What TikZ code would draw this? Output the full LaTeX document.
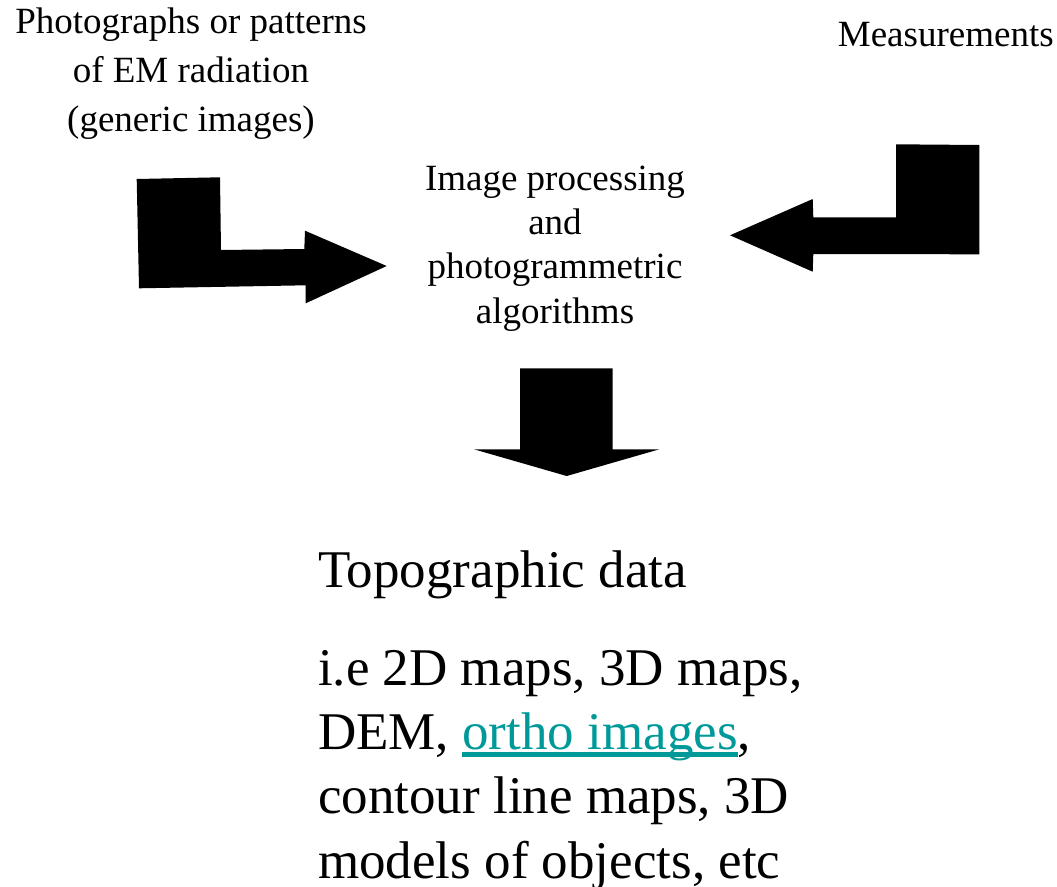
\documentclass[tikz,border=0pt]{standalone}
\usepackage{fontspec}
\setmainfont{Liberation Serif}
\definecolor{linkteal}{RGB}{0,153,153}
\newcommand{\linkul}[1]{\setbox0\hbox{#1}\rlap{\rule[-7.5pt]{\wd0}{4.5pt}}\box0}

\tikzset{
  smalltext/.style={font=\fontsize{37}{49}\selectfont, align=center, inner sep=0pt, anchor=base},
  bigtext/.style={font=\fontsize{53}{64.4}\selectfont, align=left, inner sep=0pt, anchor=base west},
  blockarrow/.style={fill=black, draw=none}
}

\begin{document}
\begin{tikzpicture}[x=1pt, y=-1pt]
\useasboundingbox (0, 0) rectangle (1057, 886);

% inputs (anchored at the baseline of the last line)
\node[smalltext] (photos) at (191, 131.3) {Photographs or patterns\\of EM radiation\\(generic images)};
\node[smalltext] (measure) at (945.8, 46.7) {Measurements};
\node[smalltext, font=\fontsize{37}{44.4}\selectfont] (process) at (555, 323.2) {Image processing\\and\\photogrammetric\\algorithms};

% fat arrows
\fill[blockarrow] (136.7, 179) -- (220, 177.3) -- (221, 250) -- (304.3, 249) -- (305, 230.7)
  -- (386.7, 266) -- (305.7, 303.3) -- (305.7, 285.3) -- (139, 288.3) -- cycle;
\fill[blockarrow] (896, 144.3) -- (979.3, 145) -- (979.3, 254.3) -- (813.3, 254) -- (812.7, 271.7)
  -- (730, 235.3) -- (812.7, 199) -- (813.3, 217.3) -- (896, 217.3) -- cycle;
\fill[blockarrow] (520, 368.3) -- (612.7, 368.3) -- (612.7, 449.3) -- (659.3, 449.3)
  -- (566.7, 476) -- (474, 449.3) -- (520, 449.3) -- cycle;

% output
\node[bigtext] (topo) at (318, 587.7) {Topographic data};
\node[bigtext] (products) at (318, 878.2) {i.e 2D maps, 3D maps,\\DEM, {\color{linkteal}\linkul{ortho images}},\\contour line maps, 3D\\models of objects, etc};
\end{tikzpicture}
\end{document}
